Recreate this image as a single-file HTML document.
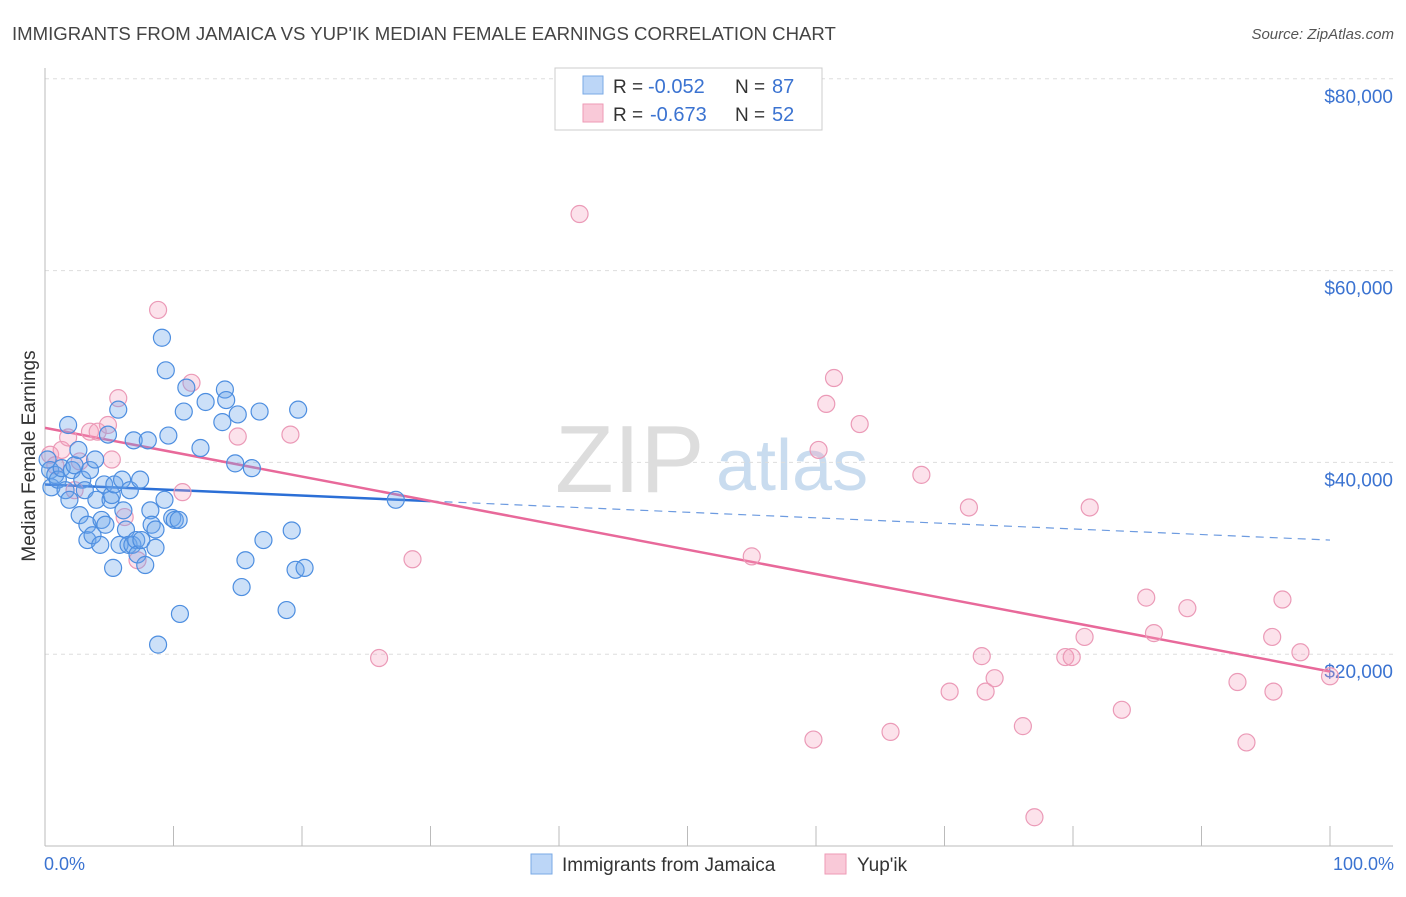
<!DOCTYPE html>
<html><head><meta charset="utf-8"><style>
body{margin:0;background:#fff;font-family:"Liberation Sans",sans-serif;}
svg text{font-family:"Liberation Sans",sans-serif;}
</style></head><body>
<svg width="1406" height="892" xmlns="http://www.w3.org/2000/svg">
<text x="12" y="40" font-size="18.6" fill="#444">IMMIGRANTS FROM JAMAICA VS YUP'IK MEDIAN FEMALE EARNINGS CORRELATION CHART</text>
<text x="1394" y="39" font-size="15" fill="#555" text-anchor="end" font-style="italic">Source: ZipAtlas.com</text>
<text x="555" y="492" font-size="96" fill="#ddd" font-family="Liberation Serif">ZIP</text>
<text x="716" y="490" font-size="72" fill="#c9dcef">atlas</text>
<g id="grid"></g><g id="axes"></g><g id="trends"></g><g id="pts"></g>
<g>
<rect x="555" y="68" width="267" height="62" fill="#fff" stroke="#ccc"/>
<rect x="583" y="76" width="20" height="18" fill="#bcd6f7" stroke="#7aa9e6"/>
<rect x="583" y="104" width="20" height="18" fill="#f9c9d8" stroke="#ee9ab6"/>
<text x="613" y="93" font-size="19" fill="#333">R =</text>
<text x="648" y="93" font-size="20" fill="#3b73d1">-0.052</text>
<text x="735" y="93" font-size="19" fill="#333">N =</text>
<text x="772" y="93" font-size="20" fill="#3b73d1">87</text>
<text x="613" y="121" font-size="19" fill="#333">R =</text>
<text x="650" y="121" font-size="20" fill="#3b73d1">-0.673</text>
<text x="735" y="121" font-size="19" fill="#333">N =</text>
<text x="772" y="121" font-size="20" fill="#3b73d1">52</text>
</g>
<g>
<rect x="531" y="854" width="21" height="20" fill="#bcd6f7" stroke="#7aa9e6"/>
<text x="562" y="871" font-size="19" fill="#333">Immigrants from Jamaica</text>
<rect x="825" y="854" width="21" height="20" fill="#f9c9d8" stroke="#ee9ab6"/>
<text x="857" y="871" font-size="19" fill="#333">Yup'ik</text>
</g>
<text x="44" y="870" font-size="18" fill="#3b73d1">0.0%</text>
<text x="1394" y="870" font-size="18" fill="#3b73d1" text-anchor="end">100.0%</text>
<text x="35" y="456" font-size="19" fill="#333" text-anchor="middle" transform="rotate(-90 35 456)">Median Female Earnings</text>
</svg>
<script>
const yTicks=[20,40,60,80];
const yTickLabels=["$20,000","$40,000","$60,000","$80,000"];
const blueX=[0.2,0.4,0.5,0.8,1.0,1.3,1.6,1.8,1.9,2.1,2.3,2.6,2.7,2.9,3.1,3.3,3.3,3.5,3.7,3.9,4.0,4.3,4.4,4.6,4.7,4.9,5.1,5.2,5.3,5.4,5.7,5.8,6.0,6.1,6.3,6.5,6.6,6.8,6.9,7.1,7.2,7.4,7.5,7.8,8.0,8.2,8.3,8.6,8.6,8.8,9.1,9.3,9.4,9.6,9.9,10.1,10.4,10.5,10.8,11.0,12.1,12.5,13.8,14.0,14.1,14.8,15.0,15.3,15.6,16.1,16.7,17.0,18.8,19.2,19.5,19.7,20.2,27.3];
const blueY=[40.3,39.2,37.4,38.7,38.2,39.4,37.1,43.9,36.1,39.2,39.7,41.3,34.5,38.2,37.1,31.9,33.5,39.2,32.4,40.3,36.1,31.4,34.0,37.7,33.5,42.9,36.1,36.6,29.0,37.7,45.5,31.4,38.2,35.0,33.0,31.4,37.1,31.4,42.3,31.9,30.4,38.2,31.9,29.3,42.3,35.0,33.5,33.0,31.1,21.0,53.0,36.1,49.6,42.8,34.2,34.0,34.0,24.2,45.3,47.8,41.5,46.3,44.2,47.6,46.5,39.9,45.0,27.0,29.8,39.4,45.3,31.9,24.6,32.9,28.8,45.5,29.0,36.1];
const pinkX=[0.4,0.8,1.3,1.8,2.3,2.7,3.5,4.1,4.9,5.2,5.7,6.2,7.2,8.8,10.7,11.4,15.0,19.1,26.0,28.6,41.6,55.0,59.8,60.2,60.8,61.4,63.4,65.8,68.2,70.4,71.9,72.9,73.2,73.9,76.1,77.0,79.4,79.9,80.9,81.3,83.8,85.7,86.3,88.9,92.8,93.5,95.5,95.6,96.3,97.7,100];
const pinkY=[40.8,39.7,41.3,42.6,37.1,40.1,43.2,43.2,43.9,40.3,46.7,34.3,29.8,55.9,36.9,48.3,42.7,42.9,19.6,29.9,65.9,30.2,11.1,41.3,46.1,48.8,44.0,11.9,38.7,16.1,35.3,19.8,16.1,17.5,12.5,3.0,19.7,19.7,21.8,35.3,14.2,25.9,22.2,24.8,17.1,10.8,21.8,16.1,25.7,20.2,17.7];
const blueTrend=[37.7,31.9];
const pinkTrend=[43.6,18.2];
const xs=p=>45+p*12.85;
const ys=v=>846-v*9.59;
const NS="http://www.w3.org/2000/svg";
function mk(t,a,parent){const e=document.createElementNS(NS,t);for(const k in a)e.setAttribute(k,a[k]);document.getElementById(parent).appendChild(e);return e;}
yTicks.forEach((v,i)=>{
 const l=mk('line',{x1:45,x2:1393,y1:ys(v),y2:ys(v),stroke:'#ddd','stroke-dasharray':'4,4'},'grid');
 
 
 const t=mk('text',{x:1393,y:ys(v)+24,'font-size':19,fill:'#3b73d1','text-anchor':'end'},'grid');
 t.textContent=yTickLabels[i];
 
 
});
let a=mk('line',{x1:45,x2:45,y1:68,y2:846,stroke:'#bbb'},'axes');


a=mk('line',{x1:45,x2:1393,y1:846,y2:846,stroke:'#bbb'},'axes');


for(let i=1;i<=10;i++){const tk=mk('line',{x1:xs(i*10),x2:xs(i*10),y1:826,y2:846,stroke:'#bbb'},'axes');
 
 }
function tv(t,p){return t[0]+(t[1]-t[0])*p/100;}
let l=mk('line',{x1:xs(0),y1:ys(tv(blueTrend,0)),x2:xs(30),y2:ys(tv(blueTrend,30)),stroke:'#2b6fd6','stroke-width':2.5},'trends');


l=mk('line',{x1:xs(30),y1:ys(tv(blueTrend,30)),x2:xs(100),y2:ys(tv(blueTrend,100)),stroke:'#6d9be0','stroke-width':1.2,'stroke-dasharray':'8,6'},'trends');


l=mk('line',{x1:xs(0),y1:ys(tv(pinkTrend,0)),x2:xs(100),y2:ys(tv(pinkTrend,100)),stroke:'#e8699a','stroke-width':2.5},'trends');


pinkX.forEach((x,i)=>{const c=mk('circle',{cx:xs(x),cy:ys(pinkY[i]),r:8.5,fill:'rgba(244,160,190,0.3)',stroke:'#eb9ab7','stroke-width':1.2},'pts');
 
 });
blueX.forEach((x,i)=>{const c=mk('circle',{cx:xs(x),cy:ys(blueY[i]),r:8.5,fill:'rgba(110,165,235,0.35)',stroke:'#4d8ee0','stroke-width':1.2},'pts');
 
 });
</script>
</body></html>
